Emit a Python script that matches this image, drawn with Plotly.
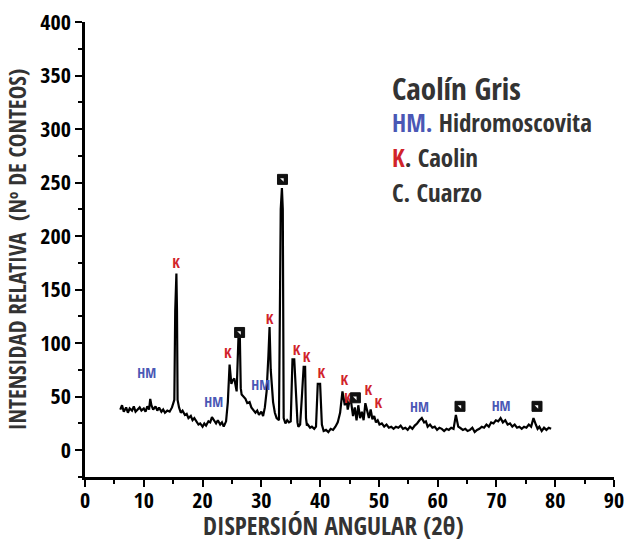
import plotly.graph_objects as go

# --- Diffractogram (2theta, counts) ---
two_theta = [6.0, 6.3, 6.6, 7.0, 7.3, 7.6, 8.0, 8.3, 8.6, 9.0, 9.3, 9.6, 10.0, 10.3, 10.6, 10.9, 11.1, 11.3, 11.6,
             12.0, 12.3, 12.6, 13.0, 13.3, 13.6, 14.0, 14.4, 14.8, 15.2, 15.35, 15.45, 15.55, 15.65, 15.75, 16.0, 16.3, 16.6,
             17.0, 17.3, 17.6, 18.0, 18.3, 18.6, 19.0, 19.3, 19.6, 20.0, 20.3, 20.6, 21.0, 21.3, 21.6, 22.0, 22.3,
             22.6, 23.0, 23.3, 23.6, 24.0, 24.3, 24.6, 24.9, 25.1, 25.4, 25.8, 26.1, 26.35, 26.5, 26.65, 27.0, 27.3,
             27.6, 28.0, 28.3, 28.6, 29.0, 29.3, 29.6, 30.0, 30.3, 30.6, 30.9, 31.2, 31.4, 31.6, 31.8, 32.0, 32.3,
             32.6, 33.0, 33.3, 33.5, 33.65, 33.8, 33.95, 34.1, 34.4, 34.7, 35.0, 35.3, 35.6, 35.95, 36.15, 36.3, 36.6, 36.9,
             37.2, 37.45, 37.6, 37.75, 37.9, 38.3, 38.6, 39.0, 39.3, 39.6, 40.0, 40.3, 40.45, 40.6, 41.0, 41.4, 41.8,
             42.2, 42.6, 43.0, 43.4, 43.8, 44.2, 44.5, 44.7, 45.0, 45.3, 45.6, 45.9, 46.2, 46.5, 46.8, 47.1, 47.4,
             47.7, 48.0, 48.3, 48.6, 48.9, 49.2, 49.5, 49.8, 50.1, 50.5, 50.9, 51.3, 51.7, 52.1, 52.5, 52.9, 53.3,
             53.7, 54.1, 54.5, 54.9, 55.3, 55.7, 56.1, 56.5, 56.9, 57.3, 57.7, 58.0, 58.3, 58.7, 59.1, 59.5, 59.9,
             60.3, 60.7, 61.1, 61.5, 61.9, 62.3, 62.7, 63.1, 63.5, 63.8, 64.0, 64.3, 64.7, 65.1, 65.5, 65.9, 66.3,
             66.7, 67.1, 67.5, 67.9, 68.3, 68.7, 69.1, 69.5, 69.9, 70.3, 70.7, 71.1, 71.5, 71.9, 72.3, 72.7, 73.1,
             73.5, 73.9, 74.3, 74.7, 75.1, 75.5, 75.9, 76.3, 76.7, 77.0, 77.3, 77.7, 78.1, 78.5, 78.9, 79.3, 79.7,
             80.0]
counts = [38, 42, 36, 40, 35, 39, 37, 41, 36, 38, 40, 37, 39, 36, 41, 38, 48, 42, 38,
          41, 37, 40, 36, 38, 35, 37, 36, 40, 47, 130, 165, 165, 130, 47, 40, 35,
          37, 33, 34, 30, 32, 28, 30, 26, 24, 25, 22, 25, 23, 27, 26, 31, 27,
          25, 28, 24, 26, 22, 27, 45, 80, 62, 65, 67, 55, 104, 104, 58, 52, 50,
          48, 44, 45, 40, 38, 35, 37, 33, 36, 32, 40, 55, 88, 115, 75, 60, 45,
          35, 30, 28, 225, 245, 225, 30, 27, 25, 28, 26, 27, 85, 85, 40, 26, 22,
          24, 50, 78, 78, 30, 23, 24, 21, 22, 20, 22, 62, 62, 24, 20, 18, 19,
          17, 20, 19, 22, 26, 35, 55, 42, 48, 38, 46, 44, 32, 40, 28, 42, 30,
          36, 28, 44, 36, 30, 38, 29, 32, 26, 28, 24, 25, 22, 24, 21, 22, 20,
          22, 21, 23, 20, 21, 19, 22, 20, 23, 25, 28, 30, 26, 27, 22, 24, 21,
          22, 19, 21, 20, 18, 20, 19, 21, 20, 33, 22, 21, 20, 19, 20, 18, 19,
          21, 17, 19, 20, 22, 21, 24, 22, 26, 25, 28, 27, 30, 26, 28, 24, 25,
          22, 24, 21, 22, 20, 22, 21, 24, 22, 30, 24, 20, 22, 18, 21, 19, 21,
          20]

# --- Phase labels (2theta, counts) ---
hm_x = [10.5, 21.9, 29.9, 56.9, 70.8]
hm_y = [71, 44, 60, 39, 40]
k_x = [15.5, 24.3, 31.4, 36.0, 37.7, 40.2, 44.1, 44.7, 48.2, 49.9]
k_y = [174, 90, 121, 92, 86, 71, 64, 48, 55, 43]
c_x = [26.3, 33.6, 46.0, 63.8, 76.9]
c_y = [110, 253, 49, 41, 41]

x_ticks = [0, 10, 20, 30, 40, 50, 60, 70, 80, 90]
y_ticks = [0, 50, 100, 150, 200, 250, 300, 350, 400]

FONT = "Open Sans Condensed, Roboto Condensed, sans-serif"
BLUE = "#4a57b5"
RED = "#d1232a"
DARK = "#333333"

fig = go.Figure()
fig.add_trace(go.Scatter(x=two_theta, y=counts, mode="lines",
                         line=dict(color="black", width=2.2), hoverinfo="skip"))
fig.add_trace(go.Scatter(x=hm_x, y=hm_y, mode="text", text=["HM"] * len(hm_x),
                         textfont=dict(family=FONT, size=14, color=BLUE, weight="bold")))
fig.add_trace(go.Scatter(x=k_x, y=k_y, mode="text", text=["K"] * len(k_x),
                         textfont=dict(family=FONT, size=15, color=RED, weight="bold")))
fig.add_trace(go.Scatter(x=c_x, y=c_y, mode="markers",
                         marker=dict(symbol="square", size=10, color="#111111",
                                     line=dict(color="#111111", width=1))))
fig.add_trace(go.Scatter(x=c_x, y=c_y, mode="markers",
                         marker=dict(symbol="triangle-ne", size=4, color="white",
                                     line=dict(width=0))))

axis_common = dict(showline=True, linecolor="black", linewidth=2.5, ticks="outside",
                   tickcolor="black", tickwidth=2, ticklen=7, showgrid=False, zeroline=False,
                   automargin=False, ticklabeloverflow="allow",
                   tickfont=dict(family=FONT, size=22, color="black", weight="bold"))

fig.update_xaxes(range=[0, 90], tickvals=x_ticks, ticktext=[str(v) for v in x_ticks],
                 minor=dict(dtick=5, tick0=0, ticks="outside", ticklen=4, tickwidth=2, tickcolor="black"),
                 ticklabelstandoff=-5,
                 **axis_common)
fig.update_yaxes(range=[-25, 400], tickvals=y_ticks, ticktext=[str(v) for v in y_ticks],
                 minor=dict(dtick=50, tick0=25, ticks="outside", ticklen=4, tickwidth=2, tickcolor="black"),
                 title=dict(text="INTENSIDAD RELATIVA  (Nº DE CONTEOS)", standoff=8,
                            font=dict(family=FONT, size=23, color=DARK, weight="bold")),
                 **axis_common)

fig.add_annotation(xref="paper", yref="paper", x=0.469, y=-0.106, xanchor="center", yanchor="middle",
                   text="DISPERSIÓN ANGULAR (2θ)", showarrow=False,
                   font=dict(family=FONT, size=25, color=DARK, weight="bold"))

legend_lines = [
    ("Caolín Gris", 31, 0.855),
    ("<span style='color:%s'>HM.</span> Hidromoscovita" % BLUE, 25, 0.780),
    ("<span style='color:%s'>K</span>. Caolin" % RED, 25, 0.703),
    ("C. Cuarzo", 25, 0.627),
]
for txt, size, yy in legend_lines:
    fig.add_annotation(xref="paper", yref="paper", x=0.576, y=yy, xanchor="left", yanchor="middle",
                       text=txt, showarrow=False,
                       font=dict(family=FONT, size=size, color=DARK, weight="bold"))

fig.update_layout(width=624, height=542, margin=dict(l=85, r=10, t=22, b=65),
                  paper_bgcolor="white", plot_bgcolor="white", showlegend=False)

fig.write_html("out.html")
